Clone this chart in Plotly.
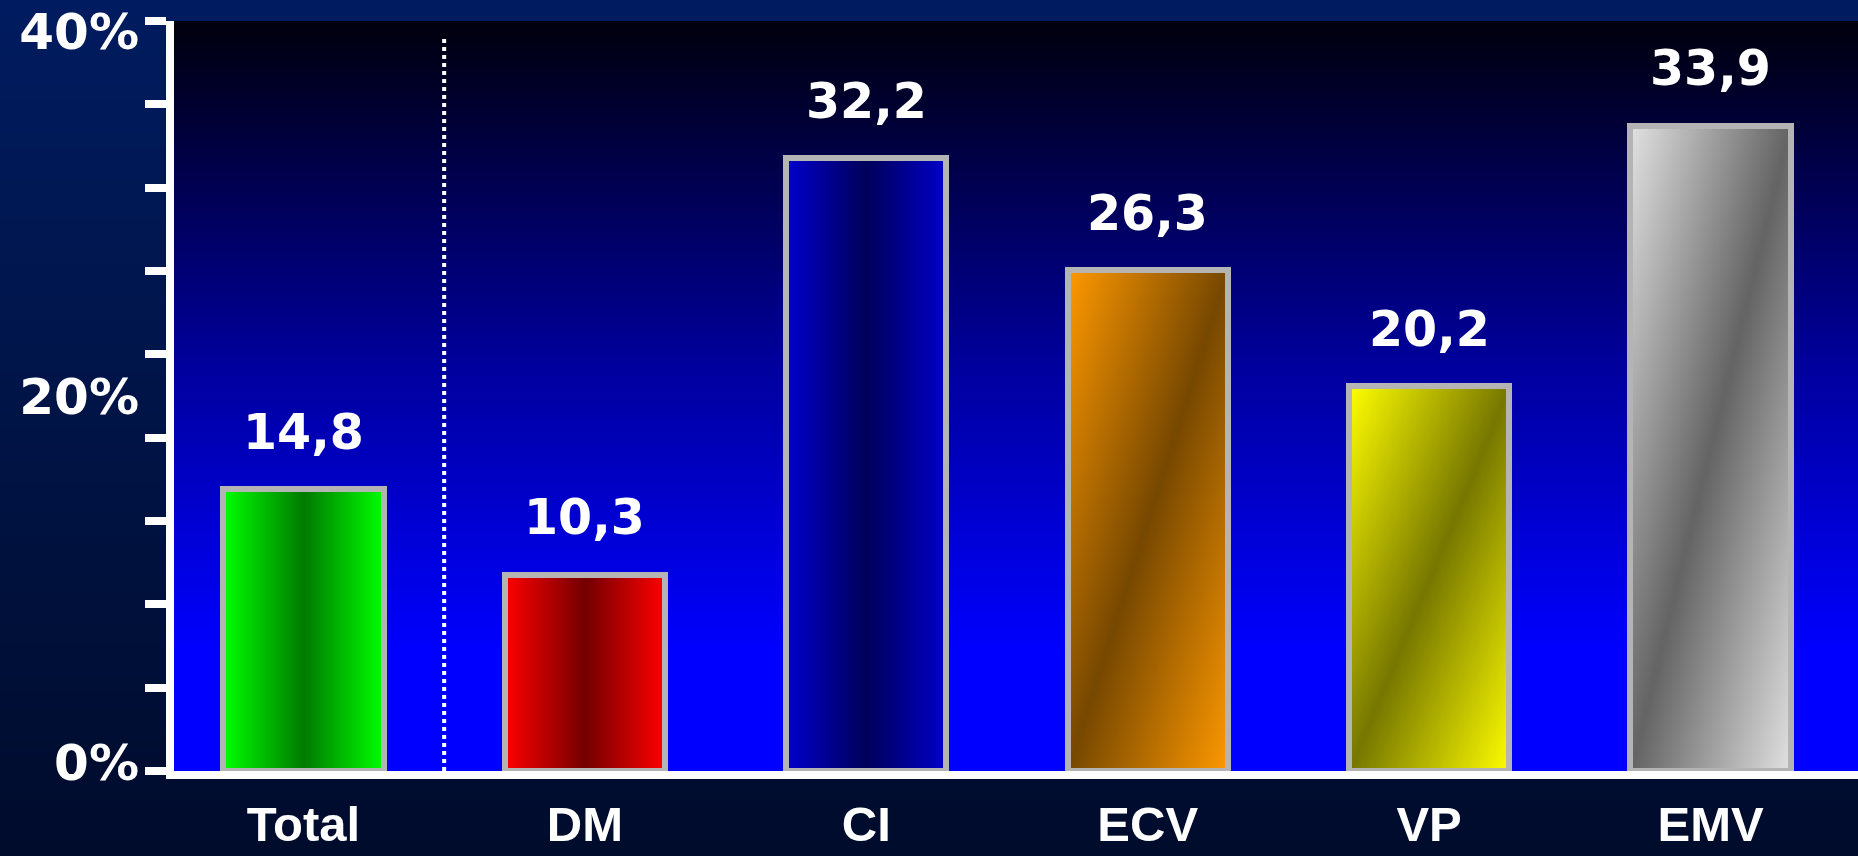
import numpy as np
import plotly.graph_objects as go

# ---- data -------------------------------------------------------------
categories = ["Total", "DM", "CI", "ECV", "VP", "EMV"]
values = [14.8, 10.3, 32.2, 26.3, 20.2, 33.9]

# fill gradient of each bar: light tone, dark tone, and gradient direction
light_colors = ["#00ff00", "#ff0000", "#0000cc", "#ff9900", "#ffff00", "#e2e2e2"]
dark_colors = ["#007a00", "#730000", "#00005a", "#774800", "#777700", "#646464"]
gradient_kind = ["horizontal", "horizontal", "horizontal", "diagonal", "diagonal", "diagonal"]

y_tick_values = [0, 20, 40]
y_tick_text = ["0%", "20%", "40%"]

# ---- layout constants -------------------------------------------------
W, H = 1858, 856
ML, MR, MT, MB = 174, 0, 21, 85
PLOT_W, PLOT_H = W - ML - MR, H - MT - MB
Y_MAX = 39.4                 # value scale of the bars
LABEL_RANGE = [-0.49, 40.55]  # scale of the percent labels drawn beside the axis
X_RANGE = [-0.46, len(categories) - 0.476]
BAR_W = 0.569
SEPARATOR_X = 0.5           # dotted divider between the total and the groups
N_MINOR = 9                  # tick marks along the value axis

WHITE = "#ffffff"
BORDER = "#b4b4b4"

fig = go.Figure()

# plot-area backdrop: near black at the top, fading to pure blue near the base
ny = 90
ye = np.linspace(0, Y_MAX, ny + 1)
yc = (ye[:-1] + ye[1:]) / 2
zb = np.repeat((yc / Y_MAX)[:, None], 2, axis=1)
fig.add_trace(go.Heatmap(
    x=[X_RANGE[0], sum(X_RANGE) / 2, X_RANGE[1]], y=ye, z=zb,
    zmin=0, zmax=1, zsmooth="best", showscale=False, hoverinfo="skip",
    colorscale=[[0, "#0000ff"], [0.16, "#0000ff"], [0.55, "#00009a"], [1, "#00000c"]],
))

# gradient fill of every bar, laid out on the data axes
for i, (v, lc, dc, kind) in enumerate(zip(values, light_colors, dark_colors, gradient_kind)):
    nx = 48
    nyb = 48 if kind == "diagonal" else 2
    xe = np.linspace(i - BAR_W / 2, i + BAR_W / 2, nx + 1)
    yeb = np.linspace(0, v, nyb + 1)
    u = (np.arange(nx) + 0.5) / nx
    w = (np.arange(nyb) + 0.5) / nyb
    U, V = np.meshgrid(u, w)
    if kind == "horizontal":
        z = np.abs(2 * U - 1)
    else:
        z = np.abs(U - V)
    fig.add_trace(go.Heatmap(
        x=xe, y=yeb, z=z, zmin=0, zmax=1, zsmooth="best", showscale=False,
        hoverinfo="skip", colorscale=[[0, dc], [1, lc]],
    ))

# bar outlines
fig.add_trace(go.Bar(
    x=list(range(len(categories))), y=values, width=BAR_W,
    marker=dict(color="rgba(0,0,0,0)", line=dict(color=BORDER, width=6)),
    hoverinfo="skip", showlegend=False,
))

# empty trace that activates the overlaid percent-label axis
fig.add_trace(go.Scatter(x=[None], y=[None], yaxis="y2", mode="markers",
                         hoverinfo="skip", showlegend=False))

# value labels above the bars
for i, v in enumerate(values):
    fig.add_annotation(
        x=i, y=v, text=f"{v:.1f}".replace(".", ","), showarrow=False,
        yanchor="middle", yshift=57,
        font=dict(family="DejaVu Sans", size=49, color=WHITE, weight="bold"),
    )

# dotted divider
fig.add_shape(
    type="line", xref="x", yref="y domain", x0=SEPARATOR_X, x1=SEPARATOR_X,
    y0=0, y1=0.977, line=dict(color=WHITE, width=4, dash="dot"), layer="above",
)

# page background: vertical navy gradient built from thin strips
top_rgb = np.array([0, 28, 96])
bot_rgb = np.array([0, 12, 44])
n_strips = 110
for k in range(n_strips):
    p0 = k * H / n_strips
    p1 = (k + 1) * H / n_strips + 1
    c = top_rgb + (bot_rgb - top_rgb) * (k + 0.5) / n_strips
    fig.add_shape(
        type="rect", xref="paper", yref="paper", layer="below",
        x0=-ML / PLOT_W, x1=1 + MR / PLOT_W,
        y0=(H - MB - p1) / PLOT_H, y1=(H - MB - p0) / PLOT_H,
        fillcolor=f"rgb({int(c[0])},{int(c[1])},{int(c[2])})", line=dict(width=0),
    )

fig.update_layout(
    width=W, height=H,
    margin=dict(l=ML, r=MR, t=MT, b=MB, pad=0, autoexpand=False),
    paper_bgcolor="rgb(0,12,44)",
    plot_bgcolor="rgba(0,0,0,0)",
    showlegend=False,
    bargap=0,
    xaxis=dict(
        range=X_RANGE, tickmode="array",
        tickvals=list(range(len(categories))), ticktext=categories,
        showline=True, linecolor=WHITE, linewidth=8,
        ticks="", showgrid=False, zeroline=False, automargin=False,
        tickfont=dict(family="Liberation Sans", size=49, color=WHITE, weight="bold"),
        ticklabelstandoff=3, fixedrange=True,
    ),
    yaxis=dict(
        range=[0, Y_MAX], tickmode="array",
        tickvals=[Y_MAX * k / N_MINOR for k in range(N_MINOR + 1)],
        showticklabels=False, ticks="outside", ticklen=21, tickwidth=8,
        tickcolor=WHITE, showline=True, linecolor=WHITE, linewidth=8,
        showgrid=False, zeroline=False, fixedrange=True, automargin=False,
    ),
    yaxis2=dict(
        overlaying="y", side="left", range=LABEL_RANGE, tickmode="array",
        tickvals=y_tick_values, ticktext=y_tick_text,
        ticks="", showline=False, showgrid=False, zeroline=False, automargin=False,
        tickfont=dict(family="DejaVu Sans", size=50, color=WHITE, weight="bold"),
        ticklabelstandoff=34, ticklabeloverflow="allow", fixedrange=True,
    ),
)

fig.write_html("out.html", config={"displayModeBar": False})
